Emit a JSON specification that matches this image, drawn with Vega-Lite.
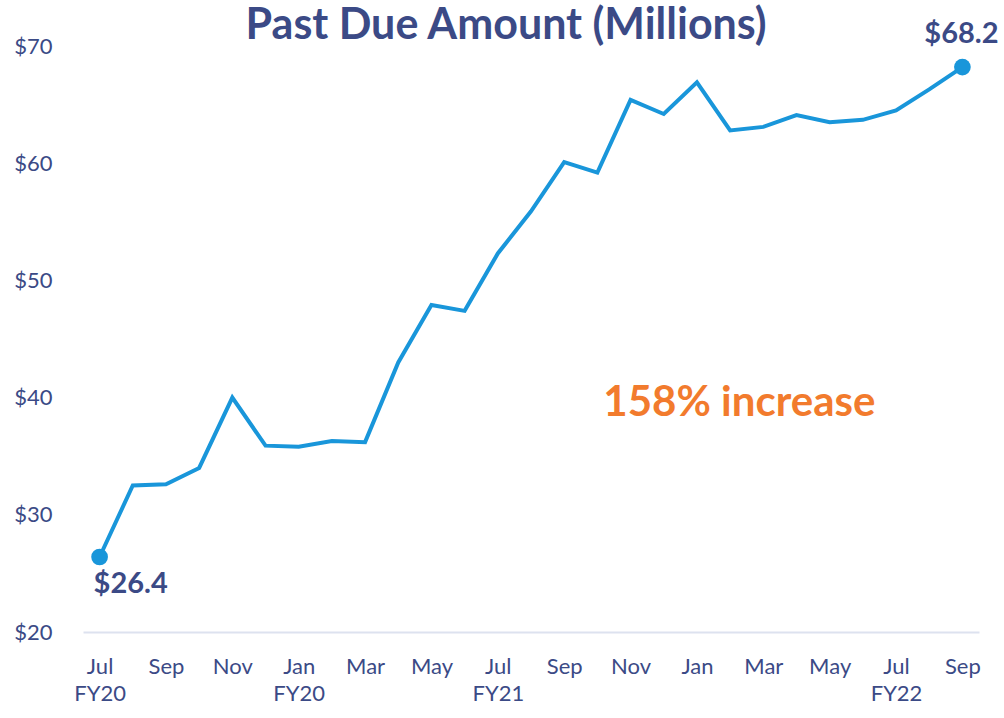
{
  "$schema": "https://vega.github.io/schema/vega-lite/v6.json",
  "width": 896,
  "height": 586,
  "autosize": {"type": "none"},
  "padding": {"left": 83, "top": 46, "right": 25, "bottom": 86},
  "background": "white",
  "title": {
    "text": "Past Due Amount (Millions)",
    "font": "Lato",
    "fontSize": 43,
    "fontWeight": "bold",
    "color": "#3b4a86",
    "anchor": "middle",
    "frame": "bounds",
    "offset": -28
  },
  "config": {
    "view": {"stroke": null},
    "axis": {
      "labelFont": "Lato",
      "labelFontSize": 22,
      "labelColor": "#3b4a86",
      "grid": false,
      "ticks": false,
      "title": null
    }
  },
  "data": {
    "values": [
      {"month": "2019-07", "value": 26.4},
      {"month": "2019-08", "value": 32.5},
      {"month": "2019-09", "value": 32.6},
      {"month": "2019-10", "value": 34.0},
      {"month": "2019-11", "value": 40.0},
      {"month": "2019-12", "value": 35.9},
      {"month": "2020-01", "value": 35.8},
      {"month": "2020-02", "value": 36.3},
      {"month": "2020-03", "value": 36.2},
      {"month": "2020-04", "value": 43.0},
      {"month": "2020-05", "value": 47.9},
      {"month": "2020-06", "value": 47.4},
      {"month": "2020-07", "value": 52.3},
      {"month": "2020-08", "value": 55.9},
      {"month": "2020-09", "value": 60.1},
      {"month": "2020-10", "value": 59.2},
      {"month": "2020-11", "value": 65.4},
      {"month": "2020-12", "value": 64.2},
      {"month": "2021-01", "value": 66.9},
      {"month": "2021-02", "value": 62.8},
      {"month": "2021-03", "value": 63.1},
      {"month": "2021-04", "value": 64.1},
      {"month": "2021-05", "value": 63.5},
      {"month": "2021-06", "value": 63.7},
      {"month": "2021-07", "value": 64.5},
      {"month": "2021-08", "value": 66.3},
      {"month": "2021-09", "value": 68.2}
    ]
  },
  "encoding": {
    "x": {
      "field": "month",
      "type": "ordinal",
      "sort": null,
      "scale": {"type": "point", "padding": 0.5},
      "axis": {
        "values": ["2019-07", "2019-09", "2019-11", "2020-01", "2020-03", "2020-05", "2020-07", "2020-09", "2020-11", "2021-01", "2021-03", "2021-05", "2021-07", "2021-09"],
        "labelExpr": "[utcFormat(toDate(datum.value + '-15T12:00:00Z'), '%b'), datum.value == '2019-07' ? 'FY20' : datum.value == '2020-01' ? 'FY20' : datum.value == '2020-07' ? 'FY21' : datum.value == '2021-07' ? 'FY22' : '']",
        "labelAngle": 0,
        "labelPadding": 24,
        "labelLineHeight": 27,
        "labelBaseline": "top",
        "domain": true,
        "domainColor": "#dde2ef",
        "domainWidth": 2
      }
    },
    "y": {
      "field": "value",
      "type": "quantitative",
      "scale": {"domain": [20, 70], "nice": false, "zero": false},
      "axis": {
        "values": [20, 30, 40, 50, 60, 70],
        "format": "$.0f",
        "domain": false,
        "labelPadding": 31
      }
    }
  },
  "layer": [
    {"mark": {"type": "line", "color": "#1996da", "strokeWidth": 4}},
    {
      "transform": [{"filter": "datum.month == '2019-07' || datum.month == '2021-09'"}],
      "mark": {"type": "point", "filled": true, "size": 280, "color": "#1996da", "opacity": 1}
    },
    {
      "transform": [{"filter": "datum.month == '2019-07'"}],
      "mark": {"type": "text", "align": "left", "baseline": "alphabetic", "dx": -6, "dy": 36, "font": "Lato", "fontSize": 29, "fontWeight": "bold", "color": "#3b4a86"},
      "encoding": {"text": {"field": "value", "type": "quantitative", "format": "$.1f"}}
    },
    {
      "transform": [{"filter": "datum.month == '2021-09'"}],
      "mark": {"type": "text", "align": "center", "baseline": "alphabetic", "dx": -1, "dy": -24, "font": "Lato", "fontSize": 29, "fontWeight": "bold", "color": "#3b4a86"},
      "encoding": {"text": {"field": "value", "type": "quantitative", "format": "$.1f"}}
    },
    {
      "data": {"values": [{"month": "2020-10", "value": 39.5, "note": "158% increase"}]},
      "mark": {"type": "text", "align": "left", "baseline": "middle", "dx": 6, "font": "Lato", "fontSize": 42, "fontWeight": "bold", "color": "#f27b2d"},
      "encoding": {"text": {"field": "note"}}
    }
  ]
}
